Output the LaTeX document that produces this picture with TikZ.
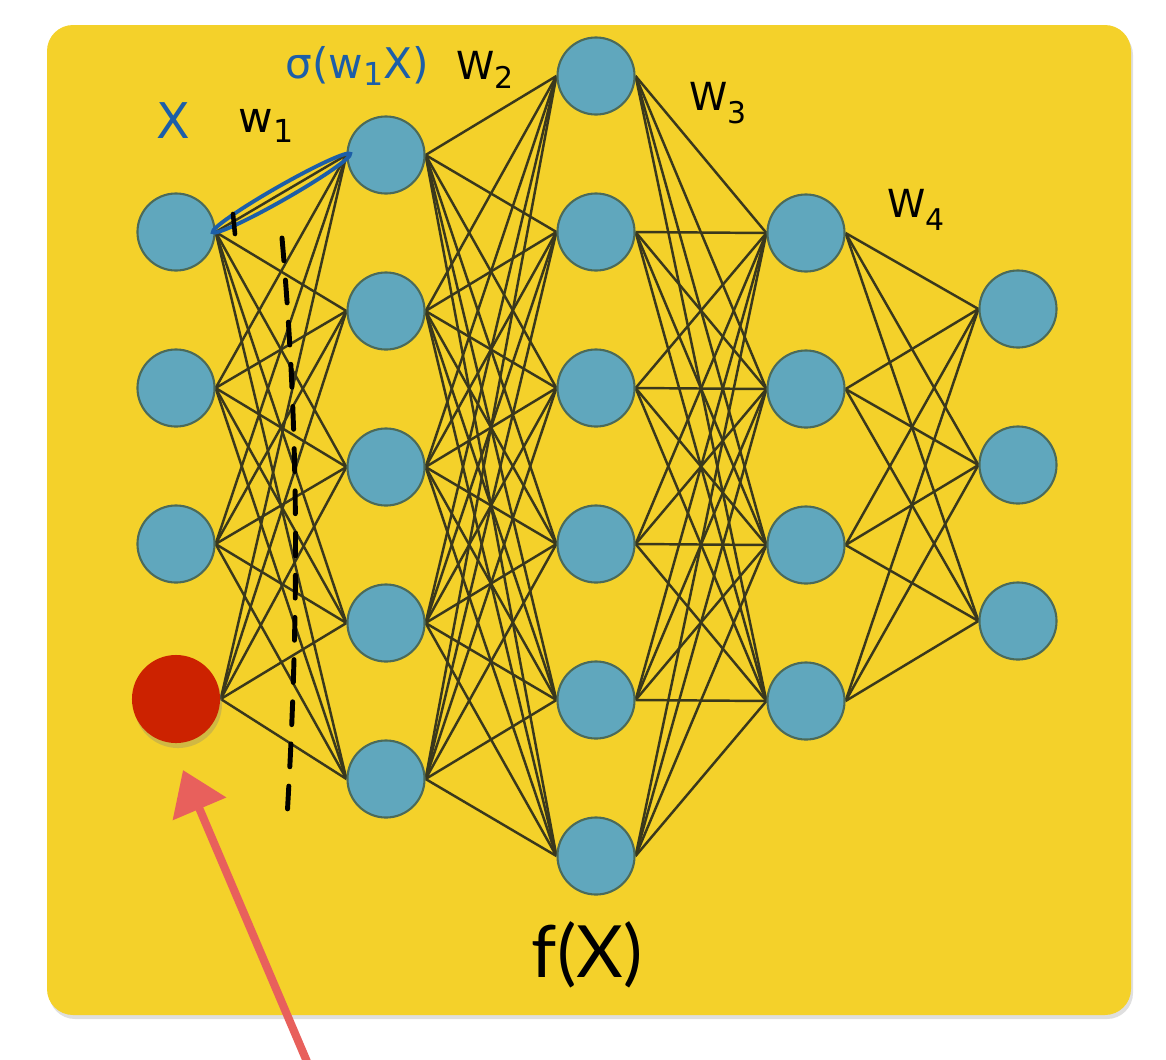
\documentclass[tikz,border=0pt]{standalone}
\usepackage{fontspec}
\setmainfont{Lato}
\newfontfamily\hand{DejaVu Sans}
\usetikzlibrary{arrows.meta,shadows}
\definecolor{bgyellow}{HTML}{F4D12A}
\definecolor{nodeblue}{HTML}{60A7BD}
\definecolor{nodeedge}{HTML}{4B6A5A}
\definecolor{biasred}{HTML}{CC2200}
\definecolor{linecol}{HTML}{3A381C}
\definecolor{penblue}{HTML}{1C5EA8}
\definecolor{pinkpen}{HTML}{E8605C}
\pgfdeclarelayer{bg}
\pgfdeclarelayer{edges}
\pgfsetlayers{bg,edges,main}
\begin{document}
\begin{tikzpicture}[x=0.01cm,y=-0.01cm,
  neuron/.style={circle,fill=nodeblue,draw=nodeedge,line width=0.6pt,minimum size=0.77cm,inner sep=0pt},
  bias/.style={circle,fill=biasred,minimum size=0.88cm,inner sep=0pt,
     drop shadow={opacity=0.3,shadow xshift=0.02cm,shadow yshift=-0.05cm}},
  conn/.style={draw=linecol,line width=0.7pt},
  hw/.style={font=\hand\fontsize{12}{14}\selectfont,inner sep=0pt},
  panel/.style={fill=bgyellow,rounded corners=0.26cm,
     drop shadow={opacity=0.25,shadow xshift=0.02cm,shadow yshift=-0.04cm}}
]
\useasboundingbox (0,0) rectangle (1166,1060);
\begin{pgfonlayer}{bg}
  \fill[white] (0,0) rectangle (1166,1060);
  \path[panel] (47,25) rectangle (1131,1015);
\end{pgfonlayer}

% neurons
\foreach \k in {1,2,3} \node[neuron] (a\k) at (176,{232+156*(\k-1)}) {};
\node[bias] (a4) at (176,699) {};
\foreach \k in {1,...,5} \node[neuron] (b\k) at (386,{155+156*(\k-1)}) {};
\foreach \k in {1,...,6} \node[neuron] (c\k) at (596,{76+156*(\k-1)}) {};
\foreach \k in {1,...,4} \node[neuron] (d\k) at (806,{233+156*(\k-1)}) {};
\foreach \k in {1,2,3} \node[neuron] (e\k) at (1018,{309+156*(\k-1)}) {};

% connectors
\begin{pgfonlayer}{edges}
  \foreach \i in {1,...,4} \foreach \j in {1,...,5} \draw[conn] (a\i.east) -- (b\j.west);
  \foreach \i in {1,...,5} \foreach \j in {1,...,6} \draw[conn] (b\i.east) -- (c\j.west);
  \foreach \i in {1,...,6} \foreach \j in {1,...,4} \draw[conn] (c\i.east) -- (d\j.west);
  \foreach \i in {1,...,4} \foreach \j in {1,2,3} \draw[conn] (d\i.east) -- (e\j.west);
\end{pgfonlayer}

% handwritten labels
\node[hw,text=penblue,font=\hand\fontsize{14}{16}\selectfont] (lx) at (173,121) {X};
\node[hw] (lw1) at (266,126) {w\raisebox{-0.45ex}{\fontsize{9}{10}\selectfont 1}};
\node[hw,text=penblue] (lsig) at (357,66) {σ(w\raisebox{-0.3ex}{\fontsize{9}{10}\selectfont 1}X)};
\node[hw,font=\hand\fontsize{11}{13}\selectfont] (lw2) at (485,70) {W\raisebox{-0.45ex}{\fontsize{8.5}{10}\selectfont 2}};
\node[hw,font=\hand\fontsize{11}{13}\selectfont] (lw3) at (718,103) {W\raisebox{-0.6ex}{\fontsize{8.5}{10}\selectfont 3}};
\node[hw,font=\hand\fontsize{11}{13}\selectfont] (lw4) at (916,210) {W\raisebox{-0.6ex}{\fontsize{8.5}{10}\selectfont 4}};

% loop around the first weight
\draw[penblue,line width=1.1pt,rotate around={29.7:(281.5,193)}] (281.5,193) ellipse [x radius=0.79cm, y radius=0.07cm];
\draw[line width=1.3pt,line cap=round] (233,214) -- (235,234);

% dashed hand-drawn line
\draw[line width=1.4pt,line cap=round,dash pattern=on 6.5pt off 5.5pt] (282,238) .. controls (298,420) and (300,600) .. (287,818);

% output label
\node[font=\fontsize{20.5}{24}\selectfont,inner sep=0pt] (fx) at (587,955) {f(X)};

% pink arrow pointing at the bias node
\coordinate (ptail) at (308,1064);
\coordinate (ptip) at ([xshift=0.07cm,yshift=-0.71cm]a4.center);
\draw[pinkpen,line width=2.3pt,-{Triangle[width=16pt,length=12pt]}] (ptail) -- (ptip);
\end{tikzpicture}
\end{document}
